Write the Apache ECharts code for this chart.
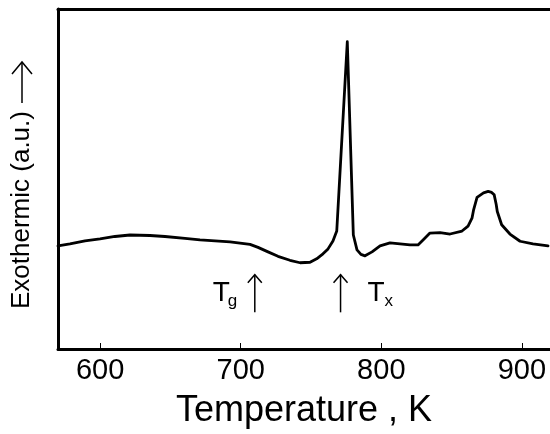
<!DOCTYPE html>
<html><head><meta charset="utf-8">
<script src="https://cdn.jsdelivr.net/npm/echarts@6/dist/echarts.min.js"></script>
<style>html,body{margin:0;padding:0;background:#fff}#c{width:550px;height:434px}</style>
</head><body><div id="c"></div>
<script>
// Temperature (K)
const temperature = [570.0, 578.5, 589.2, 599.9, 610.5, 621.2, 635.4, 646.1, 660.3, 671.0,
  692.4, 706.6, 712.3, 719.4, 726.5, 735.0, 742.2, 749.3, 754.0, 758.5, 762.1,
  765.6, 768.3, 775.8, 780.1, 782.7, 785.5, 788.4, 793.4, 799.1, 806.2, 820.4,
  826.1, 830.4, 834.6, 841.8, 848.9, 857.4, 861.7, 864.5, 865.6, 868.1, 872.7,
  876.0, 878.5, 880.3, 881.7, 882.5, 885.6, 891.5, 898.7, 907.9, 918.6];
// Exothermic heat flow (arbitrary units)
const signal = [104, 106, 109, 111, 113.5, 115, 114.5, 113.5, 111.5, 110,
  108, 105.5, 102.5, 98, 93.5, 89.5, 87, 87.5, 91, 96, 101,
  109, 119, 310, 115, 100, 95.5, 94, 98, 104, 107, 105,
  105, 111, 117, 117.5, 116, 119, 124, 132, 140, 153, 157.5,
  159, 158, 155.5, 146, 138.7, 125.3, 116, 108.7, 106, 104];
const xTickLabels = [600, 700, 800, 900];
const xTitle = 'Temperature , K';
const yTitle = 'Exothermic (a.u.)';
const markers = [
  { name: 'T', sub: 'g', at: 710, side: 'left' },
  { name: 'T', sub: 'x', at: 771, side: 'right' }
];

const FONT = '"Liberation Sans", Arial, sans-serif';
const chart = echarts.init(document.getElementById('c'), null, { renderer: 'canvas' });
const data = temperature.map((t, i) => [t, signal[i]]);

chart.setOption({
  animation: false,
  backgroundColor: '#fff',
  grid: { left: 58, right: 0, top: 9, bottom: 82 },
  xAxis: [{
    type: 'value', min: 570, max: 920, position: 'bottom',
    axisLine: { show: true, onZero: false, lineStyle: { color: '#000', width: 3 } },
    axisTick: { show: true, inside: true, length: 6, customValues: xTickLabels, lineStyle: { color: '#000', width: 1 } },
    axisLabel: { show: true, customValues: xTickLabels, margin: 7, color: '#000', fontSize: 29, fontFamily: FONT },
    splitLine: { show: false },
    name: xTitle, nameLocation: 'middle', nameGap: 44,
    nameTextStyle: { color: '#000', fontSize: 36, fontFamily: FONT }
  }, {
    type: 'value', min: 570, max: 920, position: 'top',
    axisLine: { show: true, onZero: false, lineStyle: { color: '#000', width: 3 } },
    axisTick: { show: false }, axisLabel: { show: false }, splitLine: { show: false }
  }],
  yAxis: {
    type: 'value', min: 0, max: 343,
    axisLine: { show: true, onZero: false, lineStyle: { color: '#000', width: 3 } },
    axisTick: { show: false }, axisLabel: { show: false }, splitLine: { show: false }
  },
  series: [{
    type: 'line', data: data, xAxisIndex: 0, yAxisIndex: 0,
    symbol: 'none', smooth: false, clip: true,
    lineStyle: { color: '#000', width: 2.8, join: 'round', cap: 'round' }
  }]
});

function px(k, v) { return chart.convertToPixel({ xAxisIndex: 0, yAxisIndex: 0 }, [k, v]); }

const g = [];
// Y title
g.push({ type: 'text', x: 21.5, y: 309, rotation: Math.PI / 2,
  style: { text: yTitle, font: '26px ' + FONT, fill: '#000', align: 'left', verticalAlign: 'middle', textAlign: 'left', textVerticalAlign: 'middle' } });
g.push({ type: 'line', shape: { x1: 22, y1: 103, x2: 22, y2: 62 }, style: { stroke: '#000', lineWidth: 1.5 } });
g.push({ type: 'polyline', shape: { points: [[12, 74], [22, 62], [32, 74]] }, style: { stroke: '#000', lineWidth: 1.5, fill: null } });

markers.forEach(m => {
  const top = px(m.at, 75), bot = px(m.at, 37);
  const ax = top[0];
  g.push({ type: 'line', shape: { x1: ax, y1: top[1], x2: ax, y2: bot[1] }, style: { stroke: '#000', lineWidth: 1.5 } });
  g.push({ type: 'polyline', shape: { points: [[ax - 7, top[1] + 8], [ax, top[1]], [ax + 7, top[1] + 8]] }, style: { stroke: '#000', lineWidth: 1.5, fill: null } });
  const tx = m.side === 'left' ? ax - 42 : ax + 27;
  const sx = m.side === 'left' ? ax - 27 : ax + 44;
  g.push({ type: 'text', x: tx, y: 293, style: { text: m.name, font: '28px ' + FONT, fill: '#000', align: 'left', verticalAlign: 'middle', textAlign: 'left', textVerticalAlign: 'middle' } });
  g.push({ type: 'text', x: sx, y: 301, style: { text: m.sub, font: '17px ' + FONT, fill: '#000', align: 'left', verticalAlign: 'middle', textAlign: 'left', textVerticalAlign: 'middle' } });
});
chart.setOption({ graphic: { elements: g } });
</script>
</body></html>
